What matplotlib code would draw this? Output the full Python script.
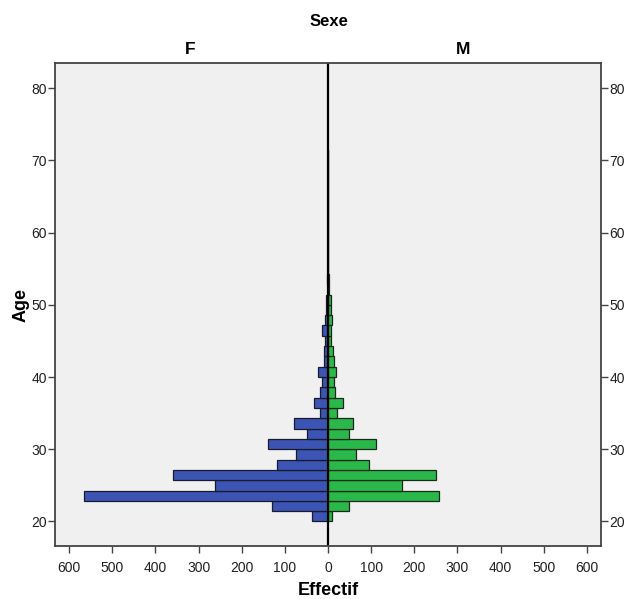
import numpy as np
import matplotlib
matplotlib.use("Agg")
import matplotlib.pyplot as plt

plt.rcParams['font.family'] = ['Liberation Sans Narrow', 'Liberation Sans', 'DejaVu Sans']

# age bins (SPSS pyramid, width 10/7 years starting at 20)
age_start = 20.0
bin_width = 10.0 / 7.0
count_f = [38, 129, 565, 263, 359, 119, 75, 138, 49, 78, 18, 33, 19, 15, 24, 9, 9, 6,
           13, 6, 5, 5, 1, 2, 0, 1, 1, 0, 1, 0, 0, 0, 0, 0, 0, 1]
count_m = [10, 49, 258, 172, 250, 96, 64, 111, 48, 57, 22, 35, 17, 15, 18, 13, 11, 6,
           6, 9, 6, 8, 2, 2, 1, 1, 1, 0, 1, 0, 0, 0, 0, 0, 0, 0]
xticks = [-600, -500, -400, -300, -200, -100, 0, 100, 200, 300, 400, 500, 600]
yticks = [20, 30, 40, 50, 60, 70, 80]

col_f = "#3c55b5"
col_m = "#2bb84a"

ages = age_start + bin_width * np.arange(len(count_f))

fig = plt.figure(figsize=(6.24, 5.99), dpi=100)
ax = fig.add_axes([55/624, 1 - 546/599, (601-55)/624, (546-63)/599])
ax.set_facecolor("#f0f0f0")

ax.barh(ages, -np.array(count_f), height=bin_width, align="edge",
        color=col_f, edgecolor="#1a1a2a", linewidth=0.9)
ax.barh(ages, np.array(count_m), height=bin_width, align="edge",
        color=col_m, edgecolor="#1a2a1a", linewidth=0.9)
ax.axvline(0, color="black", lw=1.6)

ax.set_xlim(-633, 633)
ax.set_ylim(16.6, 83.5)
ax.set_xticks(xticks)
ax.set_xticklabels([str(abs(v)) for v in xticks])
ax.set_yticks(yticks)
ax.tick_params(axis="both", direction="out", length=5, width=1, color="#444444",
               labelsize=10, labelcolor="#222222")
ax.tick_params(axis="y", right=True, labelright=True, pad=1)
ax.tick_params(axis="x", pad=6)
for s in ax.spines.values():
    s.set_color("#444444")
    s.set_linewidth(1.3)

ax.set_xlabel("Effectif", fontsize=13, fontweight="bold", labelpad=5)
ax.set_ylabel("Age", fontsize=13, fontweight="bold", labelpad=1)

fig.text(329/624, 1 - 22/599, "Sexe", ha="center", va="center", fontsize=12, fontweight="bold")
fig.text(190/624, 1 - 50/599, "F", ha="center", va="center", fontsize=12.5, fontweight="bold")
fig.text(463/624, 1 - 50/599, "M", ha="center", va="center", fontsize=12.5, fontweight="bold")

fig.savefig("out.png", dpi=100, facecolor="white")
